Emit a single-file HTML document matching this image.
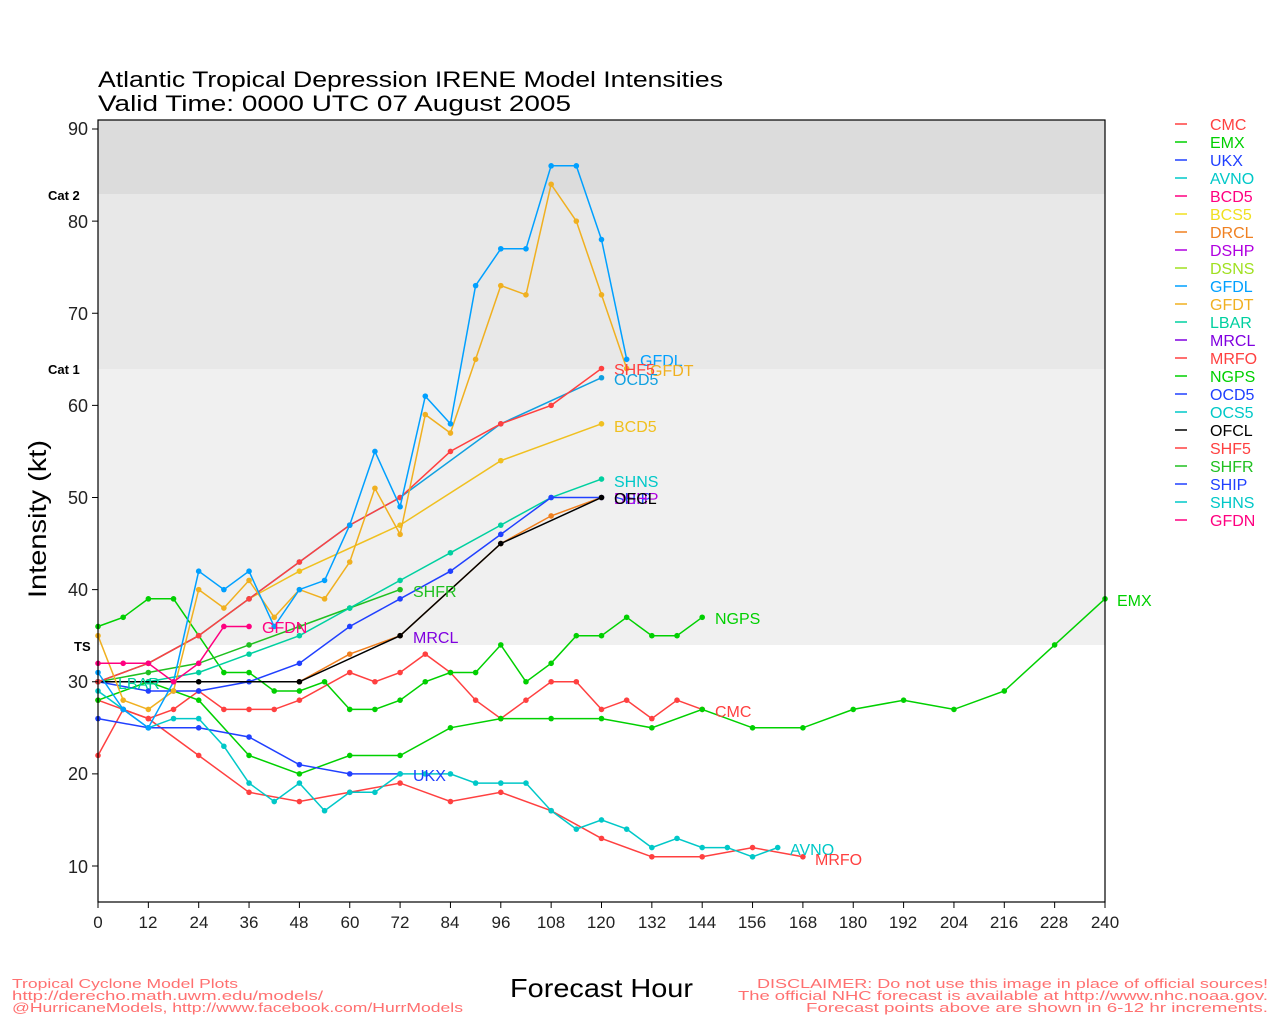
<!DOCTYPE html>
<html><head><meta charset="utf-8"><style>
html,body{margin:0;padding:0;background:#fff;width:1280px;height:1024px;overflow:hidden}
svg{display:block}
text{font-family:"Liberation Sans","DejaVu Sans",sans-serif}
</style></head><body>
<svg id="s" width="1280" height="1024" viewBox="0 0 1280 1024" xmlns="http://www.w3.org/2000/svg">
<rect x="98" y="120" width="1007" height="74" fill="#dcdcdc"/>
<rect x="98" y="194" width="1007" height="175" fill="#e8e8e8"/>
<rect x="98" y="369" width="1007" height="276" fill="#f0f0f0"/>
<g id="ser"></g>
<rect x="98" y="120" width="1007" height="782" fill="none" stroke="#000" stroke-width="1.2"/>
<g id="ticks" stroke="#000" stroke-width="1"></g>
<g font-size="18" fill="#222" text-anchor="end">
<text x="88" y="135">90</text><text x="88" y="228">80</text><text x="88" y="320">70</text>
<text x="88" y="412">60</text><text x="88" y="504">50</text><text x="88" y="596">40</text>
<text x="88" y="688">30</text><text x="88" y="780">20</text><text x="88" y="873">10</text>
</g>
<g font-size="13" font-weight="bold" fill="#000">
<text x="48" y="200">Cat 2</text><text x="48" y="374">Cat 1</text><text x="74" y="651">TS</text>
</g>
<g font-size="17" fill="#222" text-anchor="middle">
<text x="98" y="928">0</text><text x="148" y="928">12</text><text x="199" y="928">24</text>
<text x="249" y="928">36</text><text x="299" y="928">48</text><text x="350" y="928">60</text>
<text x="400" y="928">72</text><text x="450" y="928">84</text><text x="501" y="928">96</text>
<text x="551" y="928">108</text><text x="601" y="928">120</text><text x="652" y="928">132</text>
<text x="702" y="928">144</text><text x="752" y="928">156</text><text x="803" y="928">168</text>
<text x="853" y="928">180</text><text x="903" y="928">192</text><text x="954" y="928">204</text>
<text x="1004" y="928">216</text><text x="1054" y="928">228</text><text x="1105" y="928">240</text>
</g>
<text x="98" y="87" font-size="22" fill="#000" textLength="625" lengthAdjust="spacingAndGlyphs">Atlantic Tropical Depression IRENE Model Intensities</text>
<text x="98" y="111" font-size="22" fill="#000" textLength="473" lengthAdjust="spacingAndGlyphs">Valid Time: 0000 UTC 07 August 2005</text>
<text transform="translate(46,519) rotate(-90)" font-size="25" text-anchor="middle" fill="#000" textLength="158" lengthAdjust="spacingAndGlyphs">Intensity (kt)</text>
<text x="510" y="997" font-size="26" fill="#000" textLength="183" lengthAdjust="spacingAndGlyphs">Forecast Hour</text>
<g font-size="13" fill="#ff7070">
<text x="12" y="988" textLength="226" lengthAdjust="spacingAndGlyphs">Tropical Cyclone Model Plots</text>
<text x="12" y="1000" textLength="311" lengthAdjust="spacingAndGlyphs">http://derecho.math.uwm.edu/models/</text>
<text x="12" y="1012" textLength="451" lengthAdjust="spacingAndGlyphs">@HurricaneModels, http://www.facebook.com/HurrModels</text>
</g>
<g font-size="13" fill="#ff7070">
<text x="757" y="988" textLength="511" lengthAdjust="spacingAndGlyphs">DISCLAIMER: Do not use this image in place of official sources!</text>
<text x="738" y="1000" textLength="530" lengthAdjust="spacingAndGlyphs">The official NHC forecast is available at http://www.nhc.noaa.gov.</text>
<text x="806" y="1012" textLength="462" lengthAdjust="spacingAndGlyphs">Forecast points above are shown in 6-12 hr increments.</text>
</g>
<g font-size="16">
<text x="640" y="366" fill="#00a0ff">GFDL</text>
<text x="650" y="376" fill="#f0b020">GFDT</text>
<text x="614" y="375" fill="#ff4040">SHF5</text>
<text x="614" y="385" fill="#10a0e0">OCD5</text>
<text x="614" y="432" fill="#f0c020">BCD5</text>
<text x="614" y="487" fill="#00c8c8">SHNS</text>
<text x="614" y="504" fill="#2040ff">SHIP</text>
<text x="614" y="504" fill="#b000e0">DSHP</text>
<text x="614" y="504" fill="#000">OFCL</text>
<text x="413" y="597" fill="#20c020">SHFR</text>
<text x="262" y="633" fill="#ff0080">GFDN</text>
<text x="413" y="643" fill="#8000e0">MRCL</text>
<text x="118" y="689" fill="#00d0a0">LBAR</text>
<text x="715" y="624" fill="#00d000">NGPS</text>
<text x="715" y="717" fill="#ff4040">CMC</text>
<text x="413" y="781" fill="#2040ff">UKX</text>
<text x="790" y="855" fill="#00c8c8">AVNO</text>
<text x="815" y="865" fill="#ff4040">MRFO</text>
<text x="1117" y="606" fill="#00d000">EMX</text>
</g>
<g id="leg" font-size="16">
<text x="1210" y="130" fill="#ff4040">CMC</text>
<text x="1210" y="148" fill="#00d000">EMX</text>
<text x="1210" y="166" fill="#2040ff">UKX</text>
<text x="1210" y="184" fill="#00c8c8">AVNO</text>
<text x="1210" y="202" fill="#ff0080">BCD5</text>
<text x="1210" y="220" fill="#f0e020">BCS5</text>
<text x="1210" y="238" fill="#f08020">DRCL</text>
<text x="1210" y="256" fill="#b000e0">DSHP</text>
<text x="1210" y="274" fill="#a0e020">DSNS</text>
<text x="1210" y="292" fill="#00a0ff">GFDL</text>
<text x="1210" y="310" fill="#f0b020">GFDT</text>
<text x="1210" y="328" fill="#00d0a0">LBAR</text>
<text x="1210" y="346" fill="#8000e0">MRCL</text>
<text x="1210" y="364" fill="#ff4040">MRFO</text>
<text x="1210" y="382" fill="#00d000">NGPS</text>
<text x="1210" y="400" fill="#2040ff">OCD5</text>
<text x="1210" y="418" fill="#00c8c8">OCS5</text>
<text x="1210" y="436" fill="#000">OFCL</text>
<text x="1210" y="454" fill="#ff4040">SHF5</text>
<text x="1210" y="472" fill="#20c020">SHFR</text>
<text x="1210" y="490" fill="#2040ff">SHIP</text>
<text x="1210" y="508" fill="#00c8c8">SHNS</text>
<text x="1210" y="526" fill="#ff0080">GFDN</text>
</g>
</svg>
<script>
var NS="http://www.w3.org/2000/svg";
function X(h){return 98+h*4.1958}
function Y(v){return 129+(90-v)*9.2125}
var t=document.getElementById('ticks');
function ln(g,x1,y1,x2,y2,c,w){var l=document.createElementNS(NS,'line');l.setAttribute('x1',x1);l.setAttribute('y1',y1);l.setAttribute('x2',x2);l.setAttribute('y2',y2);l.setAttribute('stroke',c);l.setAttribute('stroke-width',w);g.appendChild(l);}
for(var v=10;v<=90;v+=10)ln(t,92,Y(v),98,Y(v),'#000',1);
for(var h=0;h<=240;h+=12)ln(t,X(h),902,X(h),908,'#000',1);
var lc=['#ff4040','#00d000','#2040ff','#00c8c8','#ff0080','#f0e020','#f08020','#b000e0','#a0e020','#00a0ff','#f0b020','#00d0a0','#8000e0','#ff4040','#00d000','#2040ff','#00c8c8','#000','#ff4040','#20c020','#2040ff','#00c8c8','#ff0080'];
var lg=document.getElementById('leg');
lc.forEach(function(c,i){ln(lg,1175,124+18*i,1187,124+18*i,c,1.5);});
var S=[
['#ff4040',[0,22,6,27,12,26,18,27,24,29,30,27,36,27,42,27,48,28,60,31,66,30,72,31,78,33,84,31,90,28,96,26,102,28,108,30,114,30,120,27,126,28,132,26,138,28,144,27]],
['#ff4040',[0,28,6,27,12,26,24,22,36,18,48,17,60,18,72,19,84,17,96,18,108,16,120,13,132,11,144,11,156,12,168,11]],
['#00d000',[0,28,12,30,24,28,36,22,48,20,60,22,72,22,84,25,96,26,108,26,120,26,132,25,144,27,156,25,168,25,180,27,192,28,204,27,216,29,228,34,240,39]],
['#00d000',[0,36,6,37,12,39,18,39,24,35,30,31,36,31,42,29,48,29,54,30,60,27,66,27,72,28,78,30,84,31,90,31,96,34,102,30,108,32,114,35,120,35,126,37,132,35,138,35,144,37]],
['#20c020',[0,30,12,31,24,32,36,34,48,36,60,38,72,40]],
['#2040ff',[0,26,12,25,24,25,36,24,48,21,60,20,72,20]],
['#00c8c8',[0,29,6,27,12,25,18,26,24,26,30,23,36,19,42,17,48,19,54,16,60,18,66,18,72,20,78,20,84,20,90,19,96,19,102,19,108,16,114,14,120,15,126,14,132,12,138,13,144,12,150,12,156,11,162,12]],
['#00d0a0',[0,30,12,30,24,31,36,33,48,35,60,38,72,41,84,44,96,47,108,50,120,52]],
['#f08020',[48,30,60,33,72,35,96,45,108,48,120,50]],
['#2040ff',[0,30,12,29,18,29,24,29,36,30,48,32,60,36,72,39,84,42,96,46,108,50,120,50]],
['#000',[0,30,24,30,48,30,72,35,96,45,120,50]],
['#f0c020',[0,30,12,32,24,35,36,39,48,42,72,47,96,54,120,58]],
['#10a0e0',[0,30,12,32,24,35,36,39,48,43,60,47,72,50,96,58,120,63]],
['#ff4040',[0,30,12,32,24,35,36,39,48,43,60,47,72,50,84,55,96,58,108,60,120,64]],
['#f0b020',[0,35,6,28,12,27,18,29,24,40,30,38,36,41,42,37,48,40,54,39,60,43,66,51,72,46,78,59,84,57,90,65,96,73,102,72,108,84,114,80,120,72,126,64]],
['#00a0ff',[0,31,6,27,12,25,18,30,24,42,30,40,36,42,42,36,48,40,54,41,60,47,66,55,72,49,78,61,84,58,90,73,96,77,102,77,108,86,114,86,120,78,126,65]],
['#ff0080',[0,32,6,32,12,32,18,30,24,32,30,36,36,36]]
];
var g=document.getElementById('ser');
S.forEach(function(s){var c=s[0],d=s[1],pts=[];
for(var i=0;i<d.length;i+=2)pts.push(X(d[i]).toFixed(1)+','+Y(d[i+1]).toFixed(1));
var p=document.createElementNS(NS,'polyline');p.setAttribute('points',pts.join(' '));p.setAttribute('fill','none');p.setAttribute('stroke',c);p.setAttribute('stroke-width','1.5');g.appendChild(p);
for(var i=0;i<d.length;i+=2){var e=document.createElementNS(NS,'circle');e.setAttribute('cx',X(d[i]));e.setAttribute('cy',Y(d[i+1]));e.setAttribute('r','2.8');e.setAttribute('fill',c);g.appendChild(e);}
});
</script>
</body></html>
